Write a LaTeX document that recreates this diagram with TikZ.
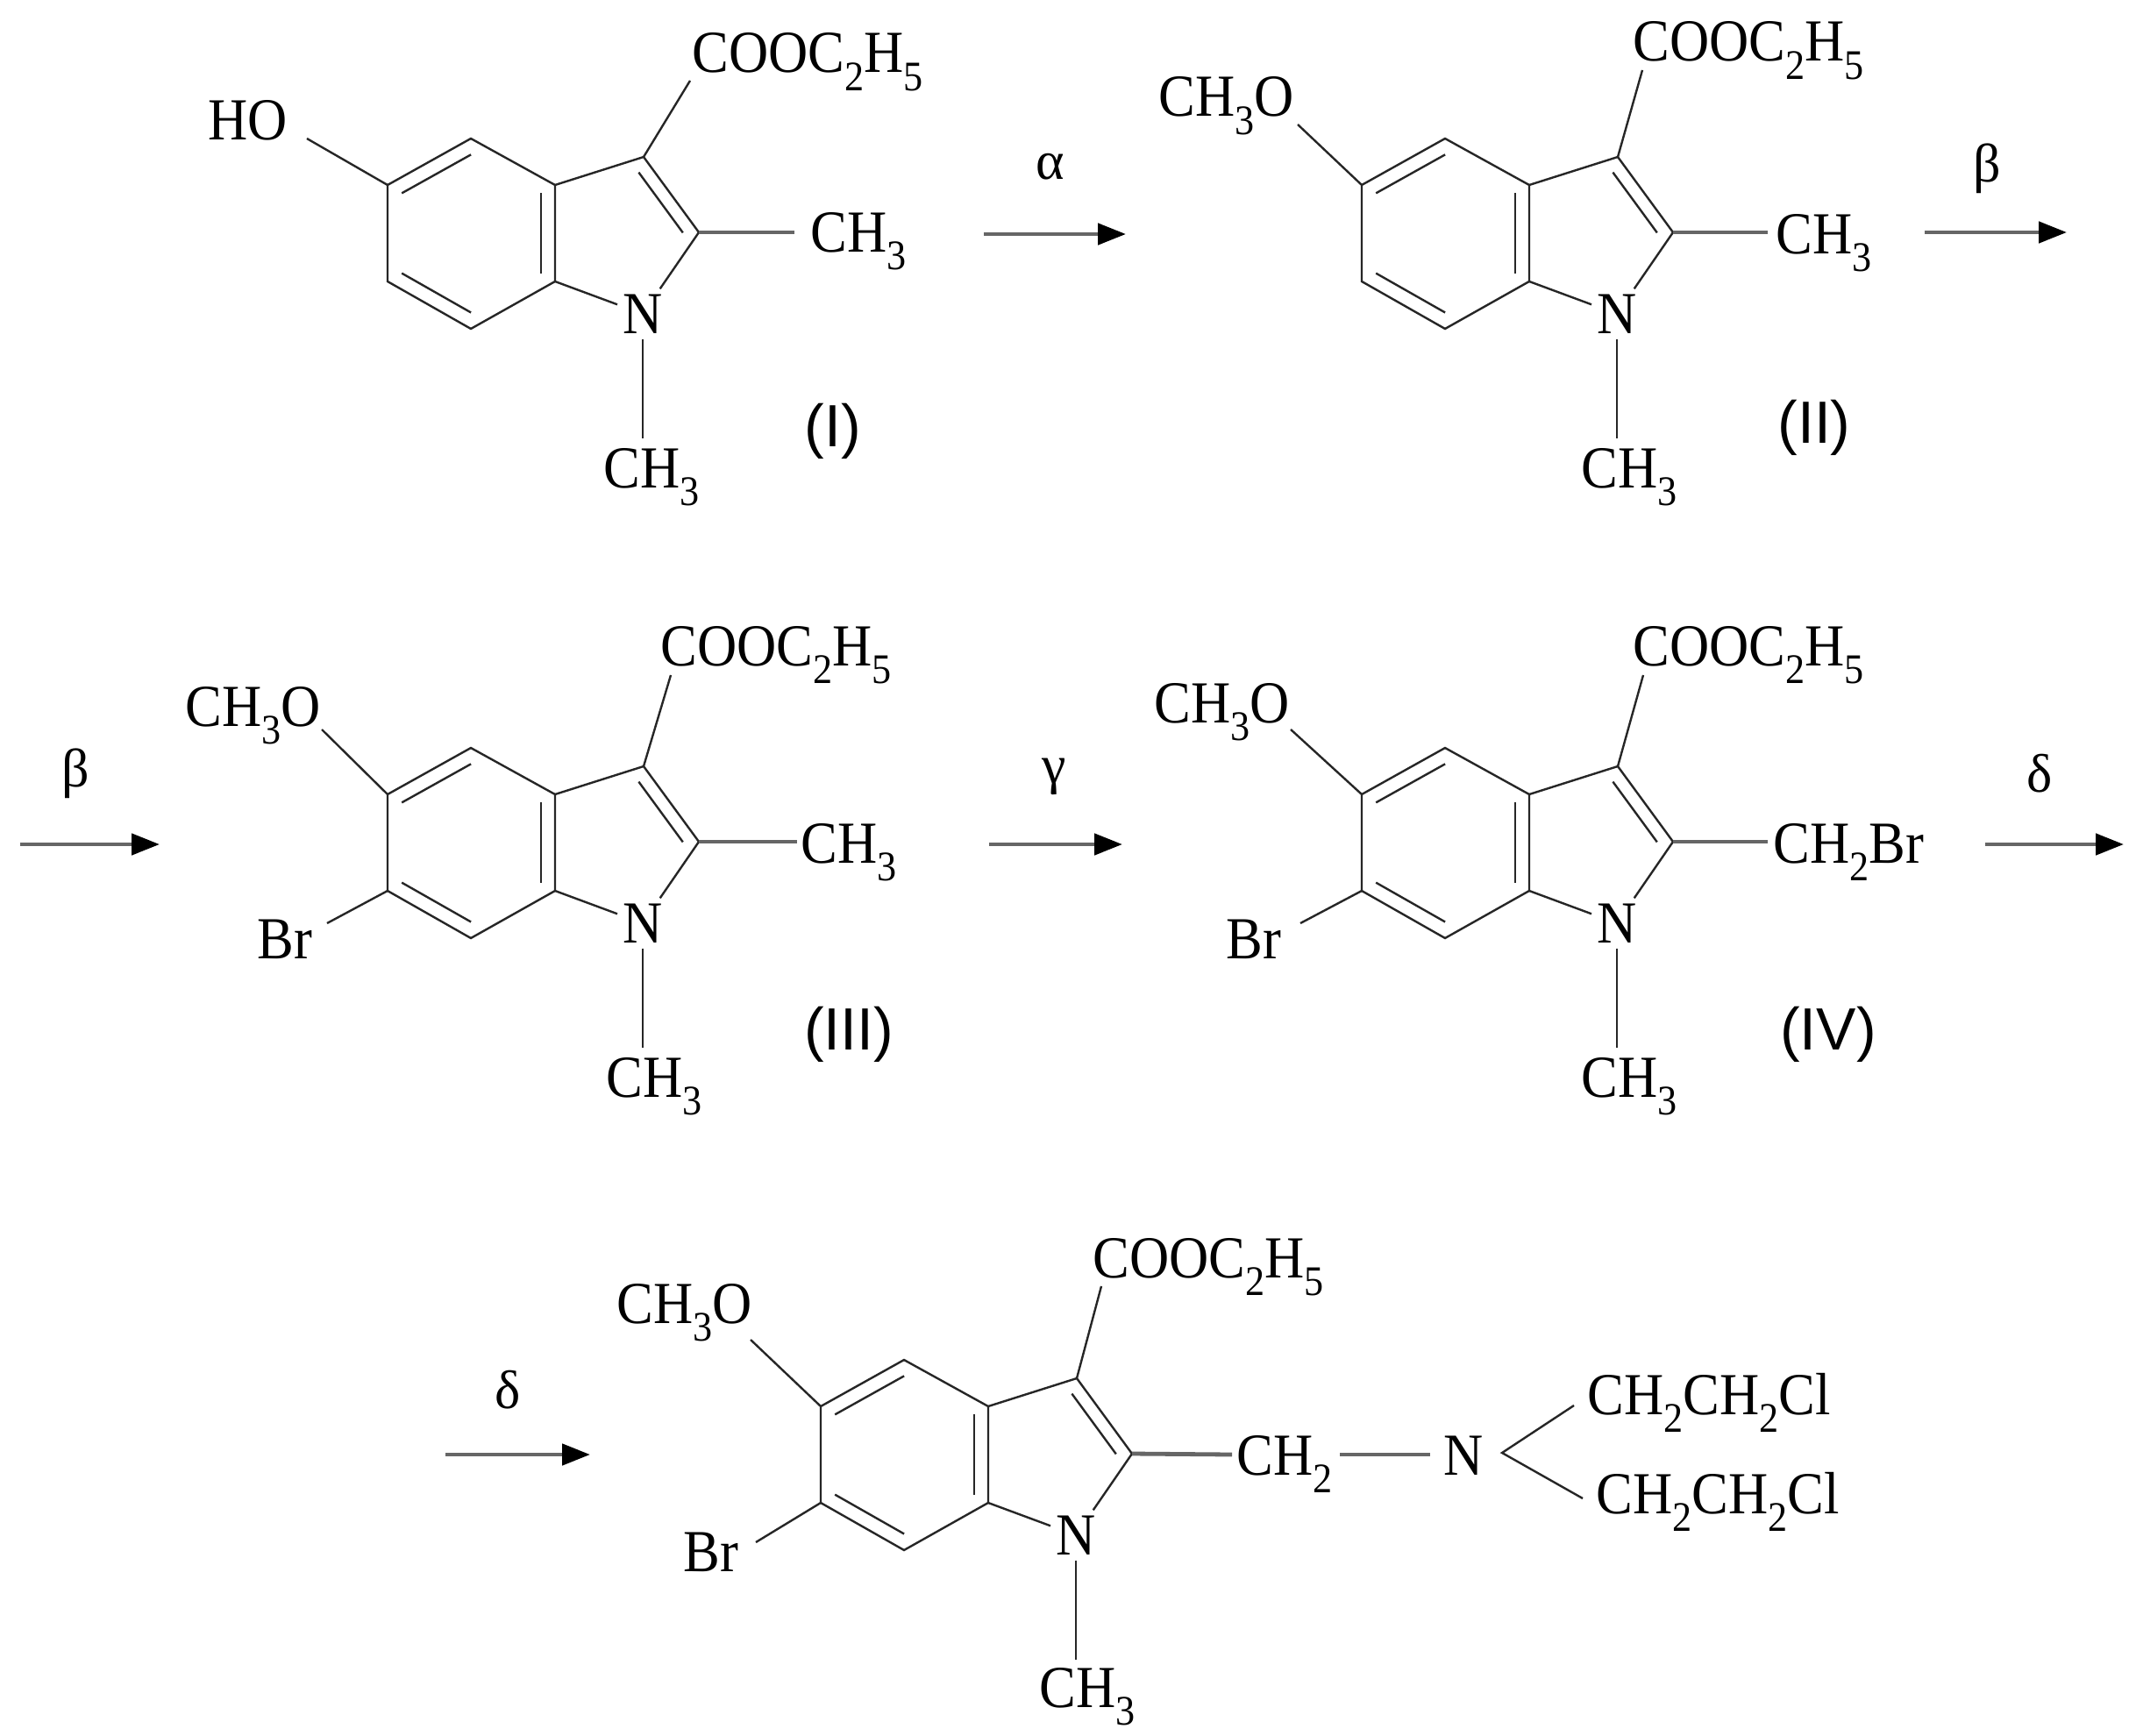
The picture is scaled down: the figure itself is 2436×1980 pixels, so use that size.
\documentclass[tikz,border=0pt]{standalone}
\usepackage{fontspec}
\setmainfont{Liberation Serif}
\newfontfamily\numfont{Liberation Sans}
\usetikzlibrary{calc,arrows.meta}
\newcommand\sbs[1]{\raisebox{-0.3em}{\fontsize{24}{24}\selectfont #1}}
\newcommand\ch[1]{\scalebox{0.92}[1]{#1}}
\tikzset{
 bond/.style={line width=1.2pt,black!85},
 hbond/.style={line width=2.4pt,black!60},
 lbl/.style={inner sep=0pt,font=\fontsize{34}{34}\selectfont},
 atom/.style={inner sep=3pt,font=\fontsize{34}{34}\selectfont},
 roman/.style={inner sep=0pt,font=\numfont\fontsize{34}{34}\selectfont},
 rxn/.style={line width=2.4pt,black!60,-{Triangle[length=16pt,width=12pt,color=black]}},
 greek/.style={inner sep=0pt,font=\fontsize{31}{31}\selectfont}
}
\newcommand\indole[3]{%
\begin{scope}[shift={(#1,#2)}]
\coordinate (#3c4) at (537,158);
\coordinate (#3c5) at (442,211);
\coordinate (#3c6) at (442,321);
\coordinate (#3c7) at (537,375);
\coordinate (#3c7a) at (633,321);
\coordinate (#3c3a) at (633,211);
\coordinate (#3c3) at (734,179);
\coordinate (#3c2) at (797,265);
\coordinate (#3h) at (537.5,266);
\coordinate (#3p) at (706,267);
\node[atom] (#3n) at (733,358) {\ch{N}};
\coordinate (#3nb) at (733,500);
\draw[bond] (#3c4)--(#3c5)--(#3c6)--(#3c7)--(#3c7a)--(#3c3a)--cycle;
\draw[bond] (#3c3a)--(#3c3)--(#3c2)--(#3n)--(#3c7a);
\draw[bond] (#3n)--(#3nb);
\draw[bond] ($(#3c4)!0.17!(#3h)$)--($(#3c5)!0.17!(#3h)$);
\draw[bond] ($(#3c6)!0.17!(#3h)$)--($(#3c7)!0.17!(#3h)$);
\draw[bond] ($(#3c7a)!0.17!(#3h)$)--($(#3c3a)!0.17!(#3h)$);
\draw[bond] ($(#3c3)!0.2!(#3p)$)--($(#3c2)!0.2!(#3p)$);
\end{scope}}
\begin{document}
\begin{tikzpicture}[x=0.5pt,y=-0.5pt]
\useasboundingbox (0,0) rectangle (2436,1980);
% ---------- I ----------
\indole{0}{0}{a}
\node[lbl,anchor=base west] (aHO) at (237,160) {\ch{HO}};
\coordinate (aob) at (350,158);
\draw[bond] (aob)--(ac5);
\node[lbl,anchor=base west] (acoo) at (789,83) {\ch{COOC\sbs{2}H\sbs{5}}};
\coordinate (acb) at (787,92);
\draw[bond] (ac3)--(acb);
\node[lbl,anchor=base west] (ame) at (924,287) {\ch{CH\sbs{3}}};
\coordinate (amb) at (906,265);
\draw[hbond] (ac2)--(amb);
\node[lbl,anchor=base west] (anme) at (688,556) {\ch{CH\sbs{3}}};
\node[roman] (rI) at (950,492) {(I)};
\coordinate (al1) at (1122,267); \coordinate (al2) at (1284,267);
\draw[rxn] (al1)--(al2);
\node[greek] (alpha) at (1198,190) {α};
% ---------- II ----------
\indole{1111}{0}{b}
\node[lbl,anchor=base west] (bome) at (1321,133) {\ch{CH\sbs{3}O}};
\coordinate (bob) at (1480,142);
\draw[bond] (bob)--(bc5);
\node[lbl,anchor=base west] (bcoo) at (1862,70) {\ch{COOC\sbs{2}H\sbs{5}}};
\coordinate (bcb) at (1873,80);
\draw[bond] (bc3)--(bcb);
\node[lbl,anchor=base west] (bme) at (2025,289) {\ch{CH\sbs{3}}};
\coordinate (bmb) at (2016,265);
\draw[hbond] (bc2)--(bmb);
\node[lbl,anchor=base west] (bnme) at (1803,556) {\ch{CH\sbs{3}}};
\node[roman] (rII) at (2069,488) {(II)};
\coordinate (be1) at (2195,265); \coordinate (be2) at (2357,265);
\draw[rxn] (be1)--(be2);
\node[greek] (beta1) at (2266,192) {β};
% ---------- III ----------
\indole{0}{695}{c}
\node[lbl,anchor=base west] (come) at (211,828) {\ch{CH\sbs{3}O}};
\coordinate (cob) at (367,832);
\draw[bond] (cob)--(cc5);
\node[lbl,anchor=base west] (ccoo) at (753,759) {\ch{COOC\sbs{2}H\sbs{5}}};
\coordinate (ccb) at (765,770);
\draw[bond] (cc3)--(ccb);
\node[lbl,anchor=base west] (cbr) at (293,1093) {\ch{Br}};
\coordinate (cbb) at (373,1053);
\draw[bond] (cc6)--(cbb);
\node[lbl,anchor=base west] (cme) at (913,984) {\ch{CH\sbs{3}}};
\coordinate (cmb) at (909,960);
\draw[hbond] (cc2)--(cmb);
\node[lbl,anchor=base west] (cnme) at (691,1251) {\ch{CH\sbs{3}}};
\node[roman] (rIII) at (968,1180) {(III)};
\coordinate (bb1) at (23,963); \coordinate (bb2) at (182,963);
\draw[rxn] (bb1)--(bb2);
\node[greek] (beta2) at (86,882) {β};
\coordinate (ga1) at (1128,963); \coordinate (ga2) at (1280,963);
\draw[rxn] (ga1)--(ga2);
\node[greek] (gamma) at (1202,886) {γ};
% ---------- IV ----------
\indole{1111}{695}{d}
\node[lbl,anchor=base west] (dome) at (1316,824) {\ch{CH\sbs{3}O}};
\coordinate (dob) at (1472,832);
\draw[bond] (dob)--(dc5);
\node[lbl,anchor=base west] (dcoo) at (1862,759) {\ch{COOC\sbs{2}H\sbs{5}}};
\coordinate (dcb) at (1874,770);
\draw[bond] (dc3)--(dcb);
\node[lbl,anchor=base west] (dbr) at (1398,1093) {\ch{Br}};
\coordinate (dbb) at (1483,1053);
\draw[bond] (dc6)--(dbb);
\node[lbl,anchor=base west] (dme) at (2022,984) {\ch{CH\sbs{2}Br}};
\coordinate (dmb) at (2016,960);
\draw[hbond] (dc2)--(dmb);
\node[lbl,anchor=base west] (dnme) at (1803,1251) {\ch{CH\sbs{3}}};
\node[roman] (rIV) at (2085,1180) {(IV)};
\coordinate (de1) at (2264,963); \coordinate (de2) at (2422,963);
\draw[rxn] (de1)--(de2);
\node[greek] (delta1) at (2326,882) {δ};
% ---------- V ----------
\indole{494}{1393}{e}
\node[lbl,anchor=base west] (eome) at (703,1509) {\ch{CH\sbs{3}O}};
\coordinate (eob) at (856,1528);
\draw[bond] (eob)--(ec5);
\node[lbl,anchor=base west] (ecoo) at (1246,1457) {\ch{COOC\sbs{2}H\sbs{5}}};
\coordinate (ecb) at (1256,1467);
\draw[bond] (ec3)--(ecb);
\node[lbl,anchor=base west] (ebr) at (779,1792) {\ch{Br}};
\coordinate (ebb) at (862,1759);
\draw[bond] (ec6)--(ebb);
\node[lbl,anchor=base west] (ech2) at (1410,1682) {\ch{CH\sbs{2}}};
\coordinate (emb) at (1405,1659);
\draw[hbond] (ec2)--(emb);
\node[lbl,anchor=base west] (eN) at (1646,1682) {\ch{N}};
\coordinate (enl) at (1528,1659); \coordinate (enr) at (1631,1659);
\draw[hbond] (enl)--(enr);
\coordinate (ebr0) at (1713,1657);
\coordinate (eup) at (1795,1603); \coordinate (elo) at (1805,1709);
\draw[bond] (eup)--(ebr0)--(elo);
\node[lbl,anchor=base west] (ecl1) at (1810,1613) {\ch{CH\sbs{2}CH\sbs{2}Cl}};
\node[lbl,anchor=base west] (ecl2) at (1820,1726) {\ch{CH\sbs{2}CH\sbs{2}Cl}};
\node[lbl,anchor=base west] (enme) at (1185,1947) {\ch{CH\sbs{3}}};
\coordinate (dd1) at (508,1659); \coordinate (dd2) at (673,1659);
\draw[rxn] (dd1)--(dd2);
\node[greek] (delta2) at (579,1585) {δ};
\end{tikzpicture}
\end{document}
